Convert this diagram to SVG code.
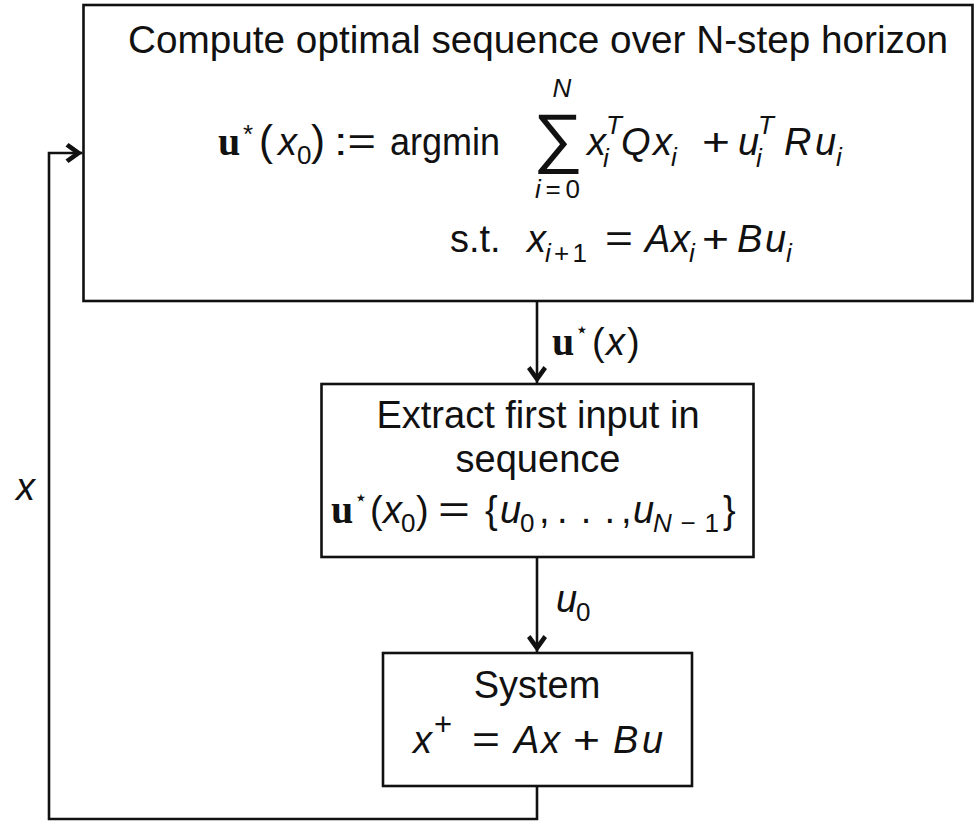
<svg xmlns="http://www.w3.org/2000/svg" width="974" height="821" viewBox="0 0 974 821">
  <defs>
    <marker id="arr" markerUnits="userSpaceOnUse" viewBox="-19 -11 20 22" refX="0" refY="0" markerWidth="20" markerHeight="22" orient="auto">
      <polygon points="-14,-10 0,0 -14,10 -17,6.5 -8,0 -17,-6.5" fill="#111"/>
    </marker>
    <style>
      .box { fill: #fff; stroke: #111; stroke-width: 2.6; }
      .ln { fill: none; stroke: #111; stroke-width: 2.6; }
      text { font-family: "Liberation Sans", Arial, sans-serif; font-size: 38px; fill: #111; }
      .i { font-style: italic; }
      .b { font-family: "Liberation Serif", "Times New Roman", serif; font-weight: bold; font-size: 40px; }
      .s { font-size: 26px; }
      .st { font-family: "DejaVu Sans", sans-serif; font-size: 22px; }
      .m { text-anchor: middle; }
      .sig { font-family: "DejaVu Sans", sans-serif; font-size: 66px; font-weight: 200; }
    </style>
  </defs>

  <g id="connectors">
    <line class="ln" x1="537" y1="301" x2="537" y2="379"/>
    <line class="ln" x1="537" y1="379" x2="537" y2="383" marker-end="url(#arr)"/>
    <line class="ln" x1="537" y1="557" x2="537" y2="648"/>
    <line class="ln" x1="537" y1="648" x2="537" y2="652" marker-end="url(#arr)"/>
    <path class="ln" d="M537,786 V819 H49 V153 H78"/>
    <line class="ln" x1="78" y1="153" x2="82.5" y2="153" marker-end="url(#arr)"/>
    <g id="label-ustar-x">
      <text class="b" x="552" y="355">u</text>
      <text class="st" x="575" y="337">⋆</text>
      <text x="592" y="355">(</text>
      <text class="i" x="606" y="355">x</text>
      <text x="627" y="355">)</text>
    </g>
    <g id="label-u0">
      <text class="i" x="556" y="612">u</text>
      <text class="s" x="576" y="621">0</text>
    </g>
    <g id="label-x">
      <text class="i" x="16" y="500">x</text>
    </g>
  </g>

  <g id="node-optimize">
    <rect class="box" x="83.5" y="5" width="889" height="296"/>
    <text class="m" x="538" y="53" textLength="820" lengthAdjust="spacingAndGlyphs">Compute optimal sequence over N-step horizon</text>
    <text class="b" x="218" y="155">u</text>
    <text class="s" x="243" y="143">*</text>
    <text x="259" y="155" style="font-size:42px">(</text>
    <text class="i" x="278" y="155">x</text>
    <text class="s" x="297" y="164">0</text>
    <text x="311" y="155" style="font-size:42px">)</text>
    <text x="334" y="155" textLength="42" lengthAdjust="spacingAndGlyphs">:=</text>
    <text x="390" y="155" textLength="110" lengthAdjust="spacingAndGlyphs">argmin</text>
    <text class="s i m" x="562" y="97">N</text>
    <text class="sig m" x="558" y="160" textLength="50" lengthAdjust="spacingAndGlyphs">∑</text>
    <text class="s" x="535" y="198" textLength="45" lengthAdjust="spacing"><tspan class="i">i</tspan>=0</text>
    <text class="i" x="587" y="155">x</text>
    <text class="s i" x="606" y="134">T</text>
    <text class="s i" x="603" y="167">i</text>
    <text class="i" x="621" y="155">Q</text>
    <text class="i" x="653" y="155">x</text>
    <text class="s i" x="671" y="166">i</text>
    <text x="702" y="155" textLength="28" lengthAdjust="spacingAndGlyphs">+</text>
    <text class="i" x="738" y="155">u</text>
    <text class="s i" x="758" y="134">T</text>
    <text class="s i" x="756" y="167">i</text>
    <text class="i" x="784" y="155">R</text>
    <text class="i" x="815" y="155">u</text>
    <text class="s i" x="836" y="166">i</text>
    <text x="450" y="252">s.t.</text>
    <text class="i" x="527" y="252">x</text>
    <text class="s" x="545" y="262" textLength="42" lengthAdjust="spacing"><tspan class="i">i</tspan>+1</text>
    <text x="605" y="252" textLength="28" lengthAdjust="spacingAndGlyphs">=</text>
    <text class="i" x="645" y="252">A</text>
    <text class="i" x="671" y="252">x</text>
    <text class="s i" x="689" y="262">i</text>
    <text x="702" y="252" textLength="27" lengthAdjust="spacingAndGlyphs">+</text>
    <text class="i" x="737" y="252">B</text>
    <text class="i" x="765" y="252">u</text>
    <text class="s i" x="786" y="262">i</text>
  </g>

  <g id="node-extract">
    <rect class="box" x="321.5" y="384" width="432" height="173"/>
    <text class="m" x="538" y="428">Extract first input in</text>
    <text class="m" x="538" y="472">sequence</text>
    <text class="b" x="331" y="523">u</text>
    <text class="st" x="354" y="505">⋆</text>
    <text x="370" y="523">(</text>
    <text class="i" x="383" y="523">x</text>
    <text class="s" x="401" y="532">0</text>
    <text x="416" y="523">)</text>
    <text x="438" y="523" textLength="32" lengthAdjust="spacingAndGlyphs">=</text>
    <text x="485" y="523">{</text>
    <text class="i" x="500" y="523">u</text>
    <text class="s" x="520" y="532">0</text>
    <text x="539" y="523">,</text>
    <text x="557" y="523" textLength="58" lengthAdjust="spacing">. . .</text>
    <text x="621" y="523">,</text>
    <text class="i" x="633" y="523">u</text>
    <text class="s" x="653" y="532" textLength="66" lengthAdjust="spacing"><tspan class="i">N</tspan>−1</text>
    <text x="723" y="523">}</text>
  </g>

  <g id="node-system">
    <rect class="box" x="383" y="653" width="309" height="133"/>
    <text class="m" x="537" y="698">System</text>
    <text class="i" x="413" y="753">x</text>
    <text x="434" y="735" style="font-size:31px">+</text>
    <text x="472" y="753" textLength="28" lengthAdjust="spacingAndGlyphs">=</text>
    <text class="i" x="514" y="753">A</text>
    <text class="i" x="541" y="753">x</text>
    <text x="573" y="753" textLength="27" lengthAdjust="spacingAndGlyphs">+</text>
    <text class="i" x="613" y="753">B</text>
    <text class="i" x="642" y="753">u</text>
  </g>
</svg>
